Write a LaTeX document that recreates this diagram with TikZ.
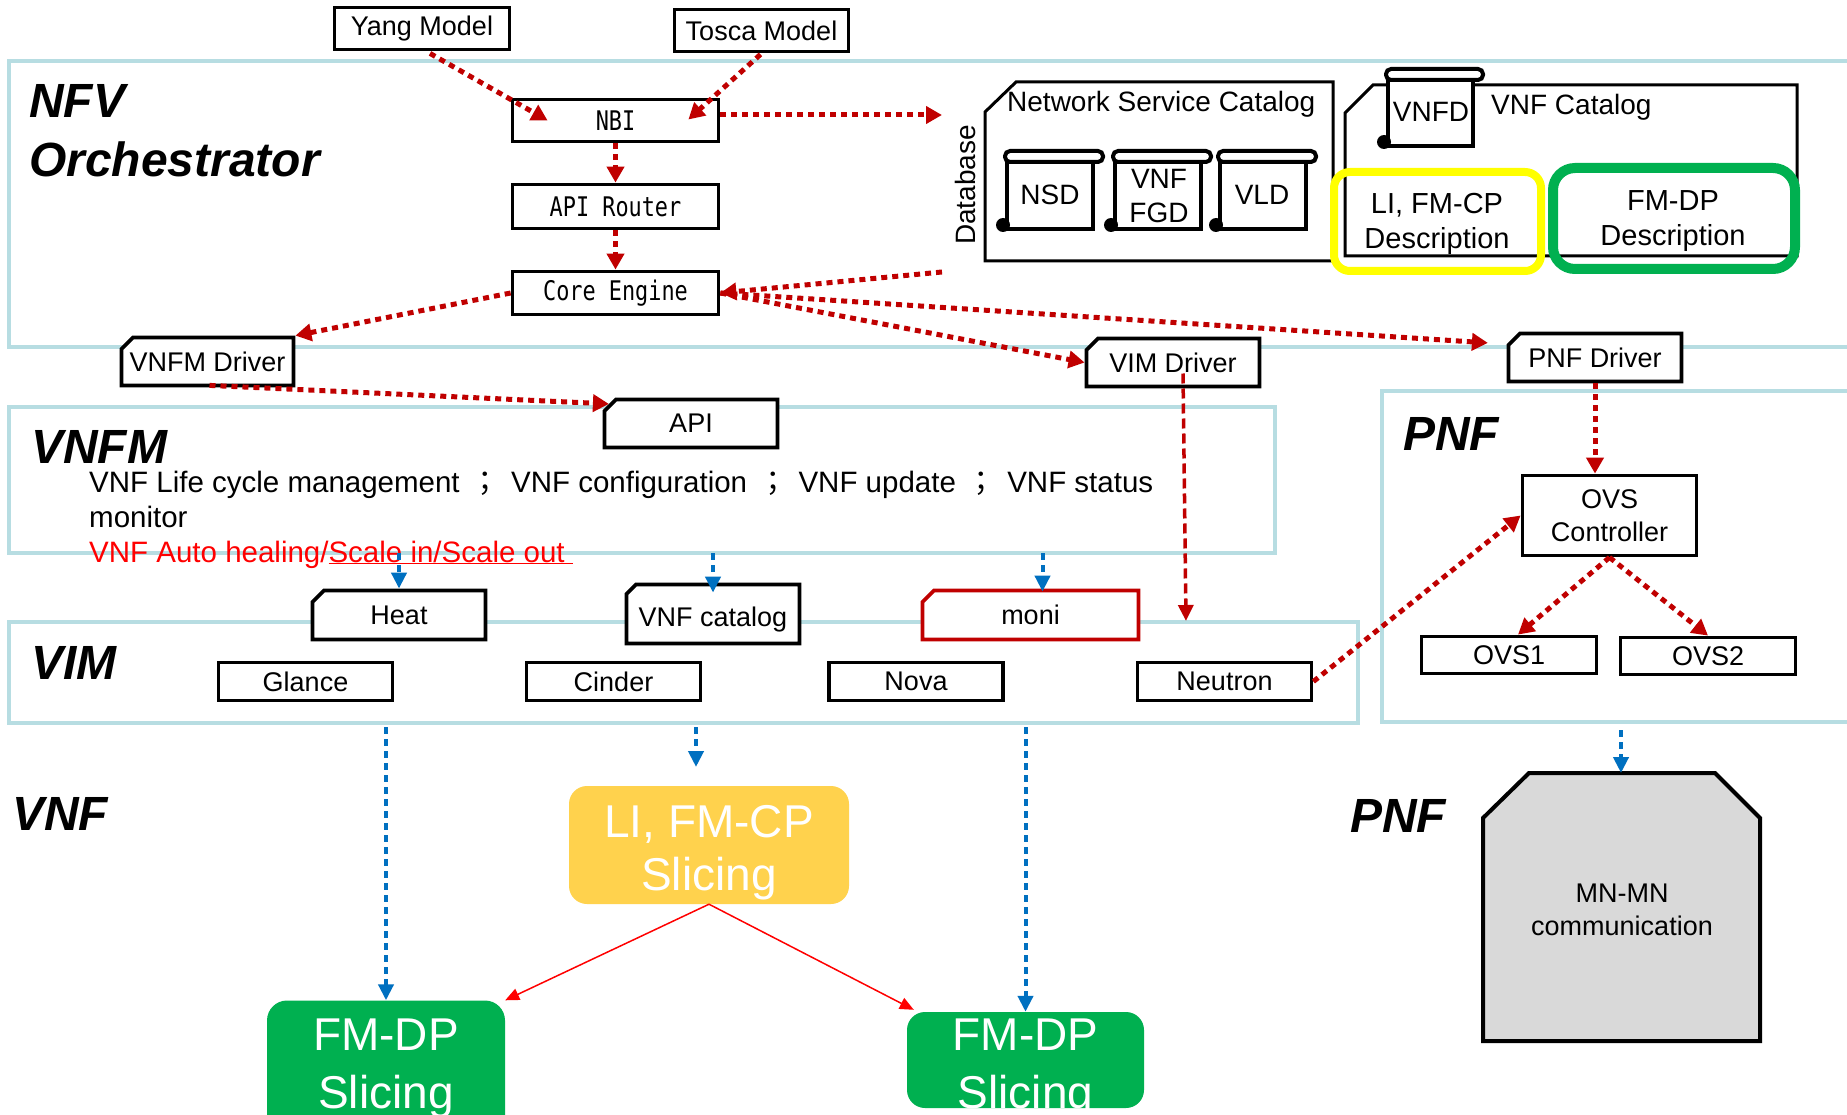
\documentclass[tikz,border=0pt]{standalone}
\usepackage{fontspec}
\setmainfont{Liberation Sans}
\newfontfamily\cjk{Noto Sans CJK TC}
\newfontfamily\monof[FakeStretch=0.81]{DejaVu Sans Mono}
\usetikzlibrary{shapes.misc,arrows.meta,calc}
\definecolor{frameblue}{RGB}{183,221,226}
\definecolor{dred}{RGB}{192,0,0}
\definecolor{bblue}{RGB}{0,112,192}
\definecolor{gfill}{RGB}{0,176,80}
\definecolor{yfill}{RGB}{255,210,77}
\definecolor{mgray}{RGB}{217,217,217}
\definecolor{yring}{RGB}{255,255,0}
\newcommand\scrollpic[4]{%
  \draw[line width=4.5pt,fill=white] (#1+12,#2+8) rectangle (#3-12,#4-3);
  \draw[line width=4pt,rounded corners=5pt,fill=white] (#1+10,#2+2) rectangle (#3-2,#2+13);
  \fill (#1+8,#4-7) circle (7pt);
  \draw[line width=4.5pt] (#1+8,#4-3) -- (#1+14,#4-3);
}
\newcommand\semisep{\hspace{0.37em}{\cjk ；}\hspace{0.37em}}
\begin{document}
\begin{tikzpicture}[x=1pt,y=-1pt,
  lframe/.style={draw=frameblue,line width=4pt,inner sep=0pt,outer sep=0pt,fill=none},
  box/.style={draw=black,line width=3.8pt,fill=white,inner sep=0pt,align=center,font=\fontsize{27}{33}\selectfont},
  cbox/.style={box,chamfered rectangle,chamfered rectangle corners=north west,chamfered rectangle xsep=8pt},
  mbox/.style={box,font=\fontsize{27}{33}\selectfont\monof},
  ttl/.style={anchor=base west,inner sep=0pt,font=\fontsize{48}{52}\selectfont\bfseries\itshape},
  lbl/.style={inner sep=0pt,align=center,font=\fontsize{28}{34}\selectfont},
  bigw/.style={inner sep=0pt,anchor=base,text=white,font=\fontsize{46}{54}\selectfont},
  body/.style={anchor=base west,inner sep=0pt,font=\fontsize{29.5}{35}\selectfont},
  rdot/.style={draw=dred,line width=5pt,dash pattern=on 6pt off 5pt,-{Triangle[length=16pt,width=17pt]}},
  rdash/.style={draw=dred,line width=3.5pt,dash pattern=on 10pt off 5pt,-{Triangle[length=16pt,width=15pt]}},
  bdash/.style={draw=bblue,line width=4pt,dash pattern=on 7pt off 5pt,-{Triangle[length=16pt,width=15pt]}},
  rsolid/.style={draw=red,line width=1.5pt,-{Triangle[length=14pt,width=12pt]}},
]
\clip (0,0) rectangle (1847,1115);
\fill[white] (0,0) rectangle (1847,1115);

% frames
\node[lframe,minimum width=1861pt,minimum height=286pt] (nfvf) at (939.5,204) {};
\node[lframe,minimum width=1266pt,minimum height=146pt] (vnfmf) at (642,480) {};
\node[lframe,minimum width=1349pt,minimum height=101pt] (vimf) at (683.5,672.5) {};
\node[lframe,minimum width=488pt,minimum height=331pt] (pnff) at (1626,556.5) {};

% titles
\node[ttl] (tnfv) at (29,118) {NFV};
\node[ttl] (torch) at (29,177) {Orchestrator};
\node[ttl] (tvnfm) at (31,463) {VNFM};
\node[ttl] (tvim) at (31,679) {VIM};
\node[ttl] (tpnf) at (1403,450) {PNF};
\node[ttl] (tvnf) at (12,830) {VNF};
\node[ttl] (tpnf2) at (1350,832) {PNF};

% database
\draw[line width=3pt,fill=white] (985,112) -- (1016,82) -- (1333,82) -- (1333,261) -- (985,261) -- cycle;
\node[lbl,anchor=base west] (nsct) at (1007,112) {Network Service Catalog};
\node[lbl,rotate=90] (dbt) at (965,185) {Database};
\scrollpic{995}{149}{1105}{232}
\scrollpic{1103}{149}{1213}{232}
\scrollpic{1208}{149}{1318}{232}
\node[lbl] (nsd) at (1050,195) {NSD};
\node[lbl] (vnffgd) at (1159,196) {VNF\\FGD};
\node[lbl] (vld) at (1262,195) {VLD};
\draw[line width=3pt,fill=white] (1345,113) -- (1373,85) -- (1797,85) -- (1797,256) -- (1345,256) -- cycle;
\scrollpic{1376}{67}{1485}{149}
\node[lbl] (vnfd) at (1431,112) {VNFD};
\node[lbl,anchor=base west] (vnfct) at (1491,115) {VNF Catalog};
\draw[yring,line width=8pt,rounded corners=16pt] (1334,172) rectangle (1541,271);
\draw[gfill,line width=10pt,rounded corners=22pt] (1553,168) rectangle (1795,269);
\node[lbl,font=\fontsize{29}{35}\selectfont] (lidesc) at (1437,224) {LI, FM-CP\\Description};
\node[lbl,font=\fontsize{29}{35}\selectfont] (fmdesc) at (1673,221) {FM-DP\\Description};

% boxes
\node[box,minimum width=175pt,minimum height=42pt] (yang) at (422,28.5) {Yang Model};
\node[box,minimum width=174pt,minimum height=42pt] (tosca) at (761.5,30.5) {Tosca Model};
\node[mbox,minimum width=206pt,minimum height=42pt] (nbi) at (615.5,120.5) {NBI};
\node[mbox,minimum width=206pt,minimum height=44pt] (router) at (615.5,206.5) {API Router};
\node[mbox,minimum width=206pt,minimum height=43pt] (core) at (615.5,293) {Core Engine};
\node[cbox,minimum width=172pt,minimum height=48pt] (vnfmdrv) at (207.5,361.5) {VNFM Driver};
\node[cbox,minimum width=173pt,minimum height=48pt] (api) at (691,423.5) {API};
\node[cbox,minimum width=173pt,minimum height=48pt] (vimdrv) at (1173,362.5) {VIM Driver};
\node[cbox,minimum width=173pt,minimum height=48pt] (pnfdrv) at (1595,357.5) {PNF Driver};
\node[cbox,minimum width=173pt,minimum height=49pt] (heat) at (399,615) {Heat};
\node[cbox,minimum width=173pt,minimum height=59pt] (vnfcat) at (713,614) {\raisebox{-6pt}[12pt][0pt]{VNF catalog}};
\node[cbox,draw=dred,minimum width=216pt,minimum height=49pt] (moni) at (1030.5,615) {moni};
\node[box,minimum width=174pt,minimum height=38pt] (glance) at (305.5,681.5) {Glance};
\node[box,minimum width=174pt,minimum height=38pt] (cinder) at (613.5,681.5) {Cinder};
\node[box,minimum width=174pt,minimum height=38pt] (nova) at (916,681.5) {Nova};
\node[box,minimum width=174pt,minimum height=38pt] (neutron) at (1224.5,681.5) {Neutron};
\node[box,minimum width=174pt,minimum height=80pt] (ovsctl) at (1609.5,515.5) {OVS\\Controller};
\node[box,minimum width=175pt,minimum height=37pt] (ovs1) at (1509,655) {OVS1};
\node[box,minimum width=175pt,minimum height=37pt] (ovs2) at (1708,656) {OVS2};

% VNFM text
\node[body] (vt1) at (89,492) {VNF Life cycle management\semisep VNF configuration\semisep VNF update\semisep VNF status};
\node[body] (vt2) at (89,527) {monitor};
\node[body,text=red] (vt3) at (89,562) {VNF Auto healing/\underline{Scale in/Scale out\ }};

% PNF shape
\draw[line width=4pt,fill=mgray] (1529,773) -- (1715,773) -- (1760,818) -- (1760,1041) -- (1483,1041) -- (1483,818) -- cycle;
\node[lbl,font=\fontsize{27}{33}\selectfont] (mnmn) at (1622,910) {MN-MN\\communication};
\coordinate (mntop) at (1621,773);

% slicing boxes
\node[fill=yfill,rounded corners=18pt,minimum width=280pt,minimum height=118pt,inner sep=0pt] (lislice) at (709,845) {};
\node[bigw] (lisl1) at (709,837) {LI, FM-CP};
\node[bigw] (lisl2) at (709,890) {Slicing};
\node[fill=gfill,rounded corners=20pt,minimum width=238pt,minimum height=139pt,inner sep=0pt] (fmdp1) at (386,1070) {};
\node[bigw] (fmdp1a) at (386,1050) {FM-DP};
\node[bigw] (fmdp1b) at (386,1108) {Slicing};
\node[fill=gfill,rounded corners=18pt,minimum width=237pt,minimum height=96pt,inner sep=0pt] (fmdp2) at (1025.5,1060) {};
\node[bigw] (fmdp2a) at (1025.5,1050) {FM-DP};
\node[bigw] (fmdp2b) at (1025.5,1108) {Slicing};

% coordinates
\coordinate (dbin) at (942,115);
\coordinate (dbout) at (942,272);
\coordinate (vimin) at (1186,621);
\coordinate (yin) at (696,767);

% red dotted connectors
\draw[rdot] ($(yang.south)+(8,2)$) -- ($(nbi.west)+(37,0)$);
\draw[rdot] ($(tosca.south)+(-1,1)$) -- ($(nbi.east)+(-32,-1)$);
\draw[rdot] (nbi.east |- dbin) -- (dbin);
\draw[rdot] (nbi) -- (router);
\draw[rdot] (router) -- (core);
\draw[rdot] (core.west) -- (vnfmdrv.north east);
\draw[rdot] (dbout) -- (core.east);
\draw[rdot] (core.east) -- (vimdrv.west);
\draw[rdot] (core.east) -- ($(pnfdrv.north west)+(-25,5)$);
\draw[rdot] ($(vnfmdrv.south)+(2,-2)$) -- (api.north west);
\draw[rdash] ($(vimdrv.center)+(10,11)$) -- (vimin);
\draw[rdot] (pnfdrv.south) -- (pnfdrv.south |- ovsctl.north);
\draw[rdot] (neutron.east) -- (ovsctl.west);
\draw[rdot] (ovsctl.south) -- ($(ovs1.north)+(9,0)$);
\draw[rdot] (ovsctl.south) -- (ovs2.north);

% blue connectors
\draw[bdash] (vnfmf.south -| heat.north) -- (heat.north);
\draw[bdash] (vnfmf.south -| vnfcat.north) -- ($(vnfcat.north)+(0,10)$);
\draw[bdash] ($(vnfmf.south -| moni.north)+(12,0)$) -- ($(moni.north)+(12,3)$);
\draw[bdash] ($(vimf.south -| fmdp1.north)+(0,4)$) -- (fmdp1.north);
\draw[bdash] ($(vimf.south -| yin)+(0,4)$) -- (yin);
\draw[bdash] ($(vimf.south -| fmdp2.north)+(0,4)$) -- (fmdp2.north);
\draw[bdash] ($(pnff.south -| mntop)+(0,8)$) -- (mntop);

% red solid
\draw[rsolid] (lislice.south) -- (fmdp1.north east);
\draw[rsolid] (lislice.south) -- ($(fmdp2.north west)+(7,-2)$);
\end{tikzpicture}
\end{document}
